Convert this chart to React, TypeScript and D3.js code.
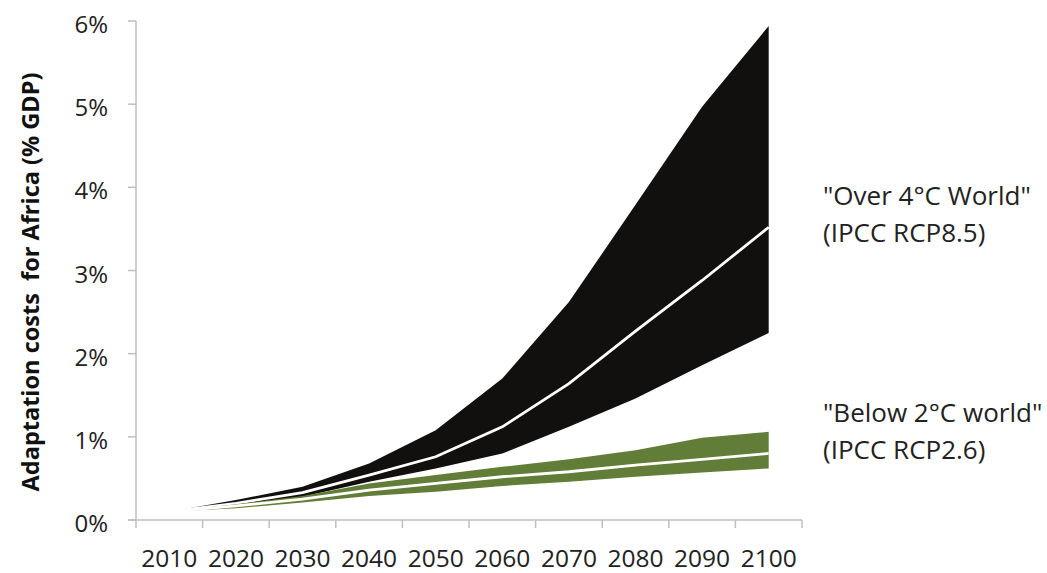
import React from "react";
import * as d3 from "d3";

const years = [2010, 2020, 2030, 2040, 2050, 2060, 2070, 2080, 2090, 2100];
const rcp85Upper = [0.1, 0.24, 0.4, 0.68, 1.08, 1.7, 2.62, 3.79, 4.97, 5.94];
const rcp85Median = [0.1, 0.2, 0.33, 0.54, 0.76, 1.12, 1.64, 2.27, 2.88, 3.52];
const rcp85Lower = [0.1, 0.17, 0.28, 0.46, 0.62, 0.8, 1.12, 1.46, 1.86, 2.25];
const rcp26Upper = [0.1, 0.19, 0.29, 0.44, 0.54, 0.64, 0.73, 0.84, 0.99, 1.06];
const rcp26Median = [0.1, 0.17, 0.25, 0.36, 0.44, 0.52, 0.58, 0.66, 0.73, 0.8];
const rcp26Lower = [0.1, 0.14, 0.21, 0.29, 0.34, 0.41, 0.46, 0.52, 0.57, 0.62];
const yTicks = [0, 1, 2, 3, 4, 5, 6];
const yLabel = "Adaptation costs  for Africa (% GDP)";
const annotations = [
  { lines: ['"Over 4°C World"', "(IPCC RCP8.5)"], top: 205 },
  { lines: ['"Below 2°C world"', "(IPCC RCP2.6)"], top: 422 },
];

const W = 1047;
const H = 573;
const FONT = "'Open Sans', sans-serif";
const AXIS = "#bfbfbf";

export default function App() {
  const x = d3.scaleBand<number>().domain(years).range([136, 802]);
  const y = d3.scaleLinear().domain([0, 6]).range([520, 21]);
  const cx = (i: number) => (x(years[i]) as number) + x.bandwidth() / 2;

  const area = (lo: number[], hi: number[]) =>
    d3
      .area<number>()
      .x((_, i) => cx(i))
      .y0((_, i) => y(lo[i]))
      .y1((_, i) => y(hi[i]))(years.map((_, i) => i)) as string;
  const line = (v: number[]) =>
    d3
      .line<number>()
      .x((_, i) => cx(i))
      .y((_, i) => y(v[i]))(years.map((_, i) => i)) as string;

  return (
    <svg
      width={W}
      height={H}
      style={{ position: "absolute", left: 0, top: 0, background: "#fff" }}
      fontFamily={FONT}
    >
      <line x1={136} x2={136} y1={y(6)} y2={y(0)} stroke={AXIS} strokeWidth={1.5} />
      <line x1={128} x2={802} y1={y(0)} y2={y(0)} stroke={AXIS} strokeWidth={1.5} />
      {yTicks.map((t) => (
        <g key={t}>
          <line x1={128} x2={136} y1={y(t)} y2={y(t)} stroke={AXIS} strokeWidth={1.5} />
          <text x={108} y={y(t)} dy={12} textAnchor="end" fontSize={24} fill="#222">
            {t}%
          </text>
        </g>
      ))}
      {years.map((yr) => (
        <line
          key={yr}
          x1={x(yr) as number}
          x2={x(yr) as number}
          y1={y(0)}
          y2={y(0) + 8}
          stroke={AXIS}
          strokeWidth={1.5}
        />
      ))}
      <line x1={802} x2={802} y1={y(0)} y2={y(0) + 8} stroke={AXIS} strokeWidth={1.5} />
      {years.map((yr, i) => (
        <text key={yr} x={cx(i)} y={567} textAnchor="middle" fontSize={24.5} fill="#222">
          {yr}
        </text>
      ))}
      <text
        transform={`translate(39, 282) rotate(-90)`}
        textAnchor="middle"
        fontSize={23.5}
        fontWeight="bold"
        fill="#111"
        style={{ whiteSpace: "pre" }}
      >
        {yLabel}
      </text>

      <path d={area(rcp85Lower, rcp85Upper)} fill="#11100e" />
      <path d={line(rcp85Median)} fill="none" stroke="#fff" strokeWidth={2.8} />
      <path d={area(rcp26Lower, rcp26Upper)} fill="#627d37" />
      <path d={line(rcp26Median)} fill="none" stroke="#fff" strokeWidth={2.8} />

      {annotations.map((a, k) => (
        <text key={k} x={823} fontSize={26} fill="#222">
          {a.lines.map((l, j) => (
            <tspan key={j} x={823} y={a.top + j * 37}>
              {l}
            </tspan>
          ))}
        </text>
      ))}
    </svg>
  );
}
